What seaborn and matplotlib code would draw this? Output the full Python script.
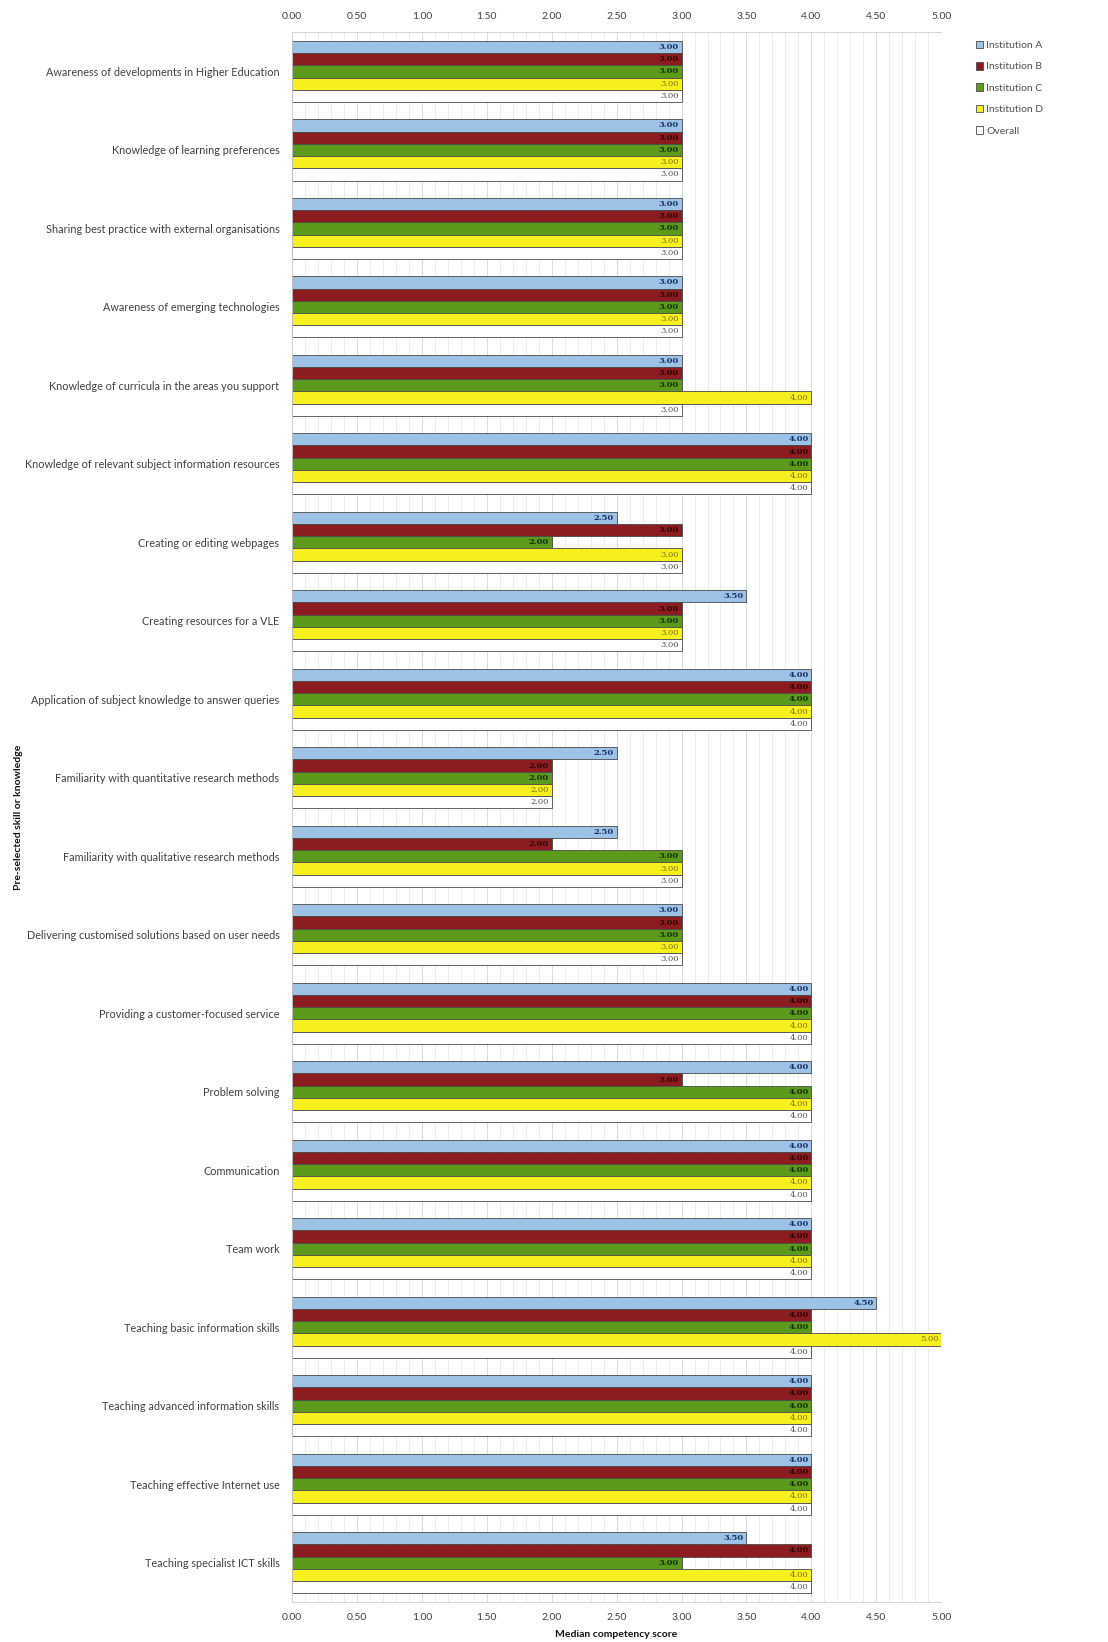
import matplotlib
matplotlib.use("Agg")
import matplotlib.pyplot as plt
from matplotlib.ticker import MultipleLocator, FormatStrFormatter
import seaborn as sns
import pandas as pd

# Skills surveyed, listed top to bottom
skills = [
    "Awareness of developments in Higher Education",
    "Knowledge of learning preferences",
    "Sharing best practice with external organisations",
    "Awareness of emerging technologies",
    "Knowledge of curricula in the areas you support",
    "Knowledge of relevant subject information resources",
    "Creating or editing webpages",
    "Creating resources for a VLE",
    "Application of subject knowledge to answer queries",
    "Familiarity with quantitative research methods",
    "Familiarity with qualitative research methods",
    "Delivering customised solutions based on user needs",
    "Providing a customer-focused service",
    "Problem solving",
    "Communication",
    "Team work",
    "Teaching basic information skills",
    "Teaching advanced information skills",
    "Teaching effective Internet use",
    "Teaching specialist ICT skills",
]

groups = ["Institution A", "Institution B", "Institution C", "Institution D", "Overall"]

# Median competency scores per group
inst_a = [3.0, 3.0, 3.0, 3.0, 3.0, 4.0, 2.5, 3.5, 4.0, 2.5, 2.5, 3.0, 4.0, 4.0, 4.0, 4.0, 4.5, 4.0, 4.0, 3.5]
inst_b = [3.0, 3.0, 3.0, 3.0, 3.0, 4.0, 3.0, 3.0, 4.0, 2.0, 2.0, 3.0, 4.0, 3.0, 4.0, 4.0, 4.0, 4.0, 4.0, 4.0]
inst_c = [3.0, 3.0, 3.0, 3.0, 3.0, 4.0, 2.0, 3.0, 4.0, 2.0, 3.0, 3.0, 4.0, 4.0, 4.0, 4.0, 4.0, 4.0, 4.0, 3.0]
inst_d = [3.0, 3.0, 3.0, 3.0, 4.0, 4.0, 3.0, 3.0, 4.0, 2.0, 3.0, 3.0, 4.0, 4.0, 4.0, 4.0, 5.0, 4.0, 4.0, 4.0]
overall = [3.0, 3.0, 3.0, 3.0, 3.0, 4.0, 3.0, 3.0, 4.0, 2.0, 3.0, 3.0, 4.0, 4.0, 4.0, 4.0, 4.0, 4.0, 4.0, 4.0]

x_ticks = [0.0, 0.5, 1.0, 1.5, 2.0, 2.5, 3.0, 3.5, 4.0, 4.5, 5.0]

series = [inst_a, inst_b, inst_c, inst_d, overall]
rows = []
for g, vals in zip(groups, series):
    for s, v in zip(skills, vals):
        rows.append({"skill": s, "group": g, "score": v})
df = pd.DataFrame(rows)

palette = {
    "Institution A": "#9cc3e5",
    "Institution B": "#8c1c1f",
    "Institution C": "#5c9a1c",
    "Institution D": "#f7f01e",
    "Overall": "#ffffff",
}
label_style = {
    "Institution A": ("#1c2f6a", "bold"),
    "Institution B": ("#2a0608", "bold"),
    "Institution C": ("#15300a", "bold"),
    "Institution D": ("#7d6f10", "normal"),
    "Overall": ("#505050", "normal"),
}

sns.set_theme(style="white")
plt.rcParams["font.family"] = ["Lato", "DejaVu Sans"]

fig = plt.figure(figsize=(11.08, 16.42), dpi=100)
ax = fig.add_axes([0.2635, 0.0244, 0.586, 0.956])

sns.barplot(
    data=df, x="score", y="skill", hue="group", order=skills, hue_order=groups,
    orient="h", palette=palette, saturation=1, width=0.78,
    edgecolor="#4a4a4a", linewidth=0.6, ax=ax, errorbar=None,
)

# value labels at the end of each bar
for cont, g in zip(ax.containers, groups):
    col, wt = label_style[g]
    texts = ax.bar_label(cont, fmt="%.2f", padding=-2, fontsize=6,
                         color=col, fontweight=wt, family="DejaVu Serif")
    for t in texts:
        t.set_ha("right")

ax.set_xlim(0, 5)
ax.set_xticks(x_ticks)
ax.xaxis.set_major_formatter(FormatStrFormatter("%.2f"))
ax.xaxis.set_minor_locator(MultipleLocator(0.1))
ax.tick_params(axis="x", which="both", top=True, labeltop=True, length=0, pad=8,
               labelsize=7.5, labelcolor="#404040")
ax.tick_params(axis="y", length=0, pad=9, labelsize=7.8, labelcolor="#404040")

ax.grid(axis="x", which="major", color="#d6d6d6", linewidth=0.6)
ax.grid(axis="x", which="minor", color="#e6e6e6", linewidth=0.5)
ax.set_axisbelow(True)
for sp in ax.spines.values():
    sp.set_color("#cfcfcf")
    sp.set_linewidth(0.6)
ax.spines["right"].set_visible(False)

ax.set_xlabel("Median competency score", fontsize=7.5, fontweight="bold",
              color="#111111", labelpad=6)
ax.set_ylabel("Pre-selected skill or knowledge", fontsize=7.5, fontweight="bold",
              color="#111111")
ax.yaxis.set_label_coords(-0.414, 0.5)

handles, labels = ax.get_legend_handles_labels()
ax.get_legend().remove()
fig.legend(handles, labels, loc="upper left", bbox_to_anchor=(0.872, 0.981),
           frameon=False, fontsize=7.5, labelcolor="#505050",
           handlelength=0.75, handleheight=0.75, handletextpad=0.3,
           labelspacing=1.15)

fig.savefig("out.png", dpi=100, facecolor="white")
